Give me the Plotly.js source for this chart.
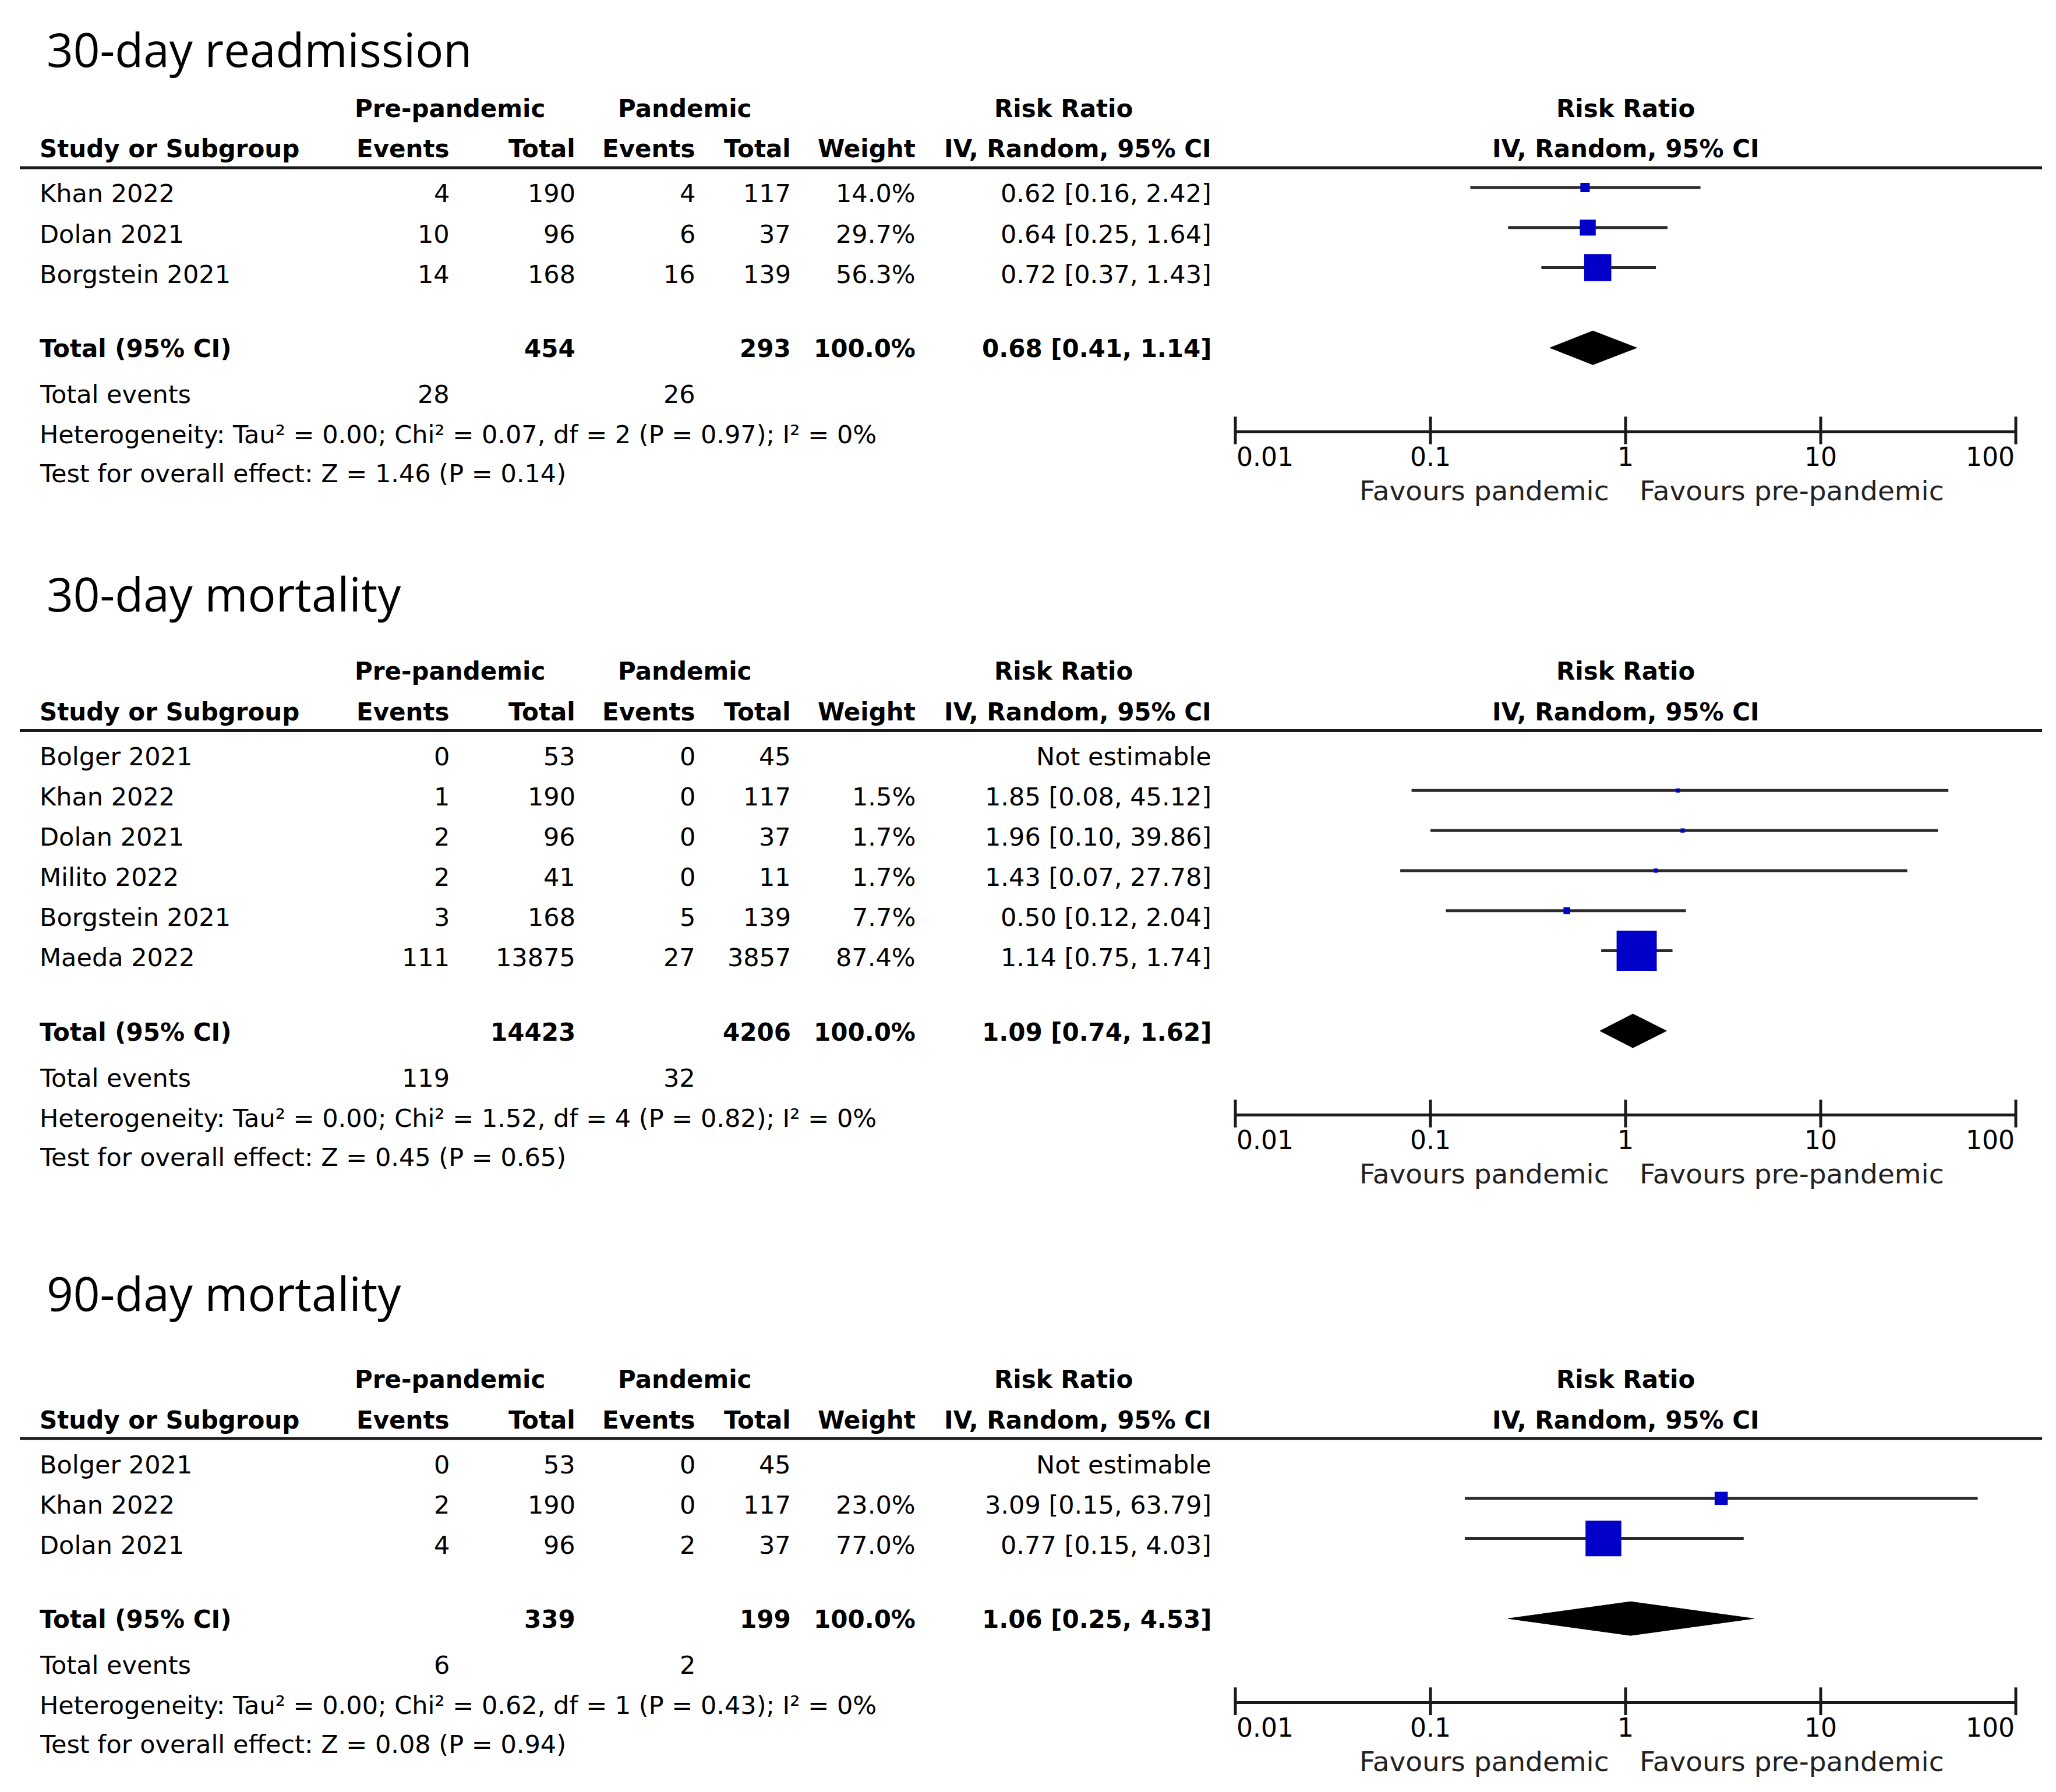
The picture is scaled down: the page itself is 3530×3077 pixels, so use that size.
<!DOCTYPE html>
<html>
<head>
<meta charset="utf-8">
<script src="https://cdn.plot.ly/plotly-3.0.1.min.js"></script>
<style>html,body{margin:0;padding:0;background:#fff;}#chart{width:3530px;height:3077px;}</style>
</head>
<body>
<div id="chart"></div>
<script>
// ---------------- DATA ----------------
const sectionTitles = ['30-day readmission', '30-day mortality', '90-day mortality'];

// 30-day readmission
const studies1 = ['Khan 2022', 'Dolan 2021', 'Borgstein 2021'];
const preEvents1 = [4, 10, 14];
const preTotal1 = [190, 96, 168];
const panEvents1 = [4, 6, 16];
const panTotal1 = [117, 37, 139];
const weight1 = [14.0, 29.7, 56.3];
const rr1 = [0.62, 0.64, 0.72];
const lo1 = [0.16, 0.25, 0.37];
const hi1 = [2.42, 1.64, 1.43];
const pooled1 = {preTotal: 454, panTotal: 293, weight: 100.0, rr: 0.68, lo: 0.41, hi: 1.14, preEvents: 28, panEvents: 26};
const het1 = {tau2: '0.00', chi2: '0.07', df: 2, p: '0.97', i2: '0%', z: '1.46', pz: '0.14'};

// 30-day mortality
const studies2 = ['Bolger 2021', 'Khan 2022', 'Dolan 2021', 'Milito 2022', 'Borgstein 2021', 'Maeda 2022'];
const preEvents2 = [0, 1, 2, 2, 3, 111];
const preTotal2 = [53, 190, 96, 41, 168, 13875];
const panEvents2 = [0, 0, 0, 0, 5, 27];
const panTotal2 = [45, 117, 37, 11, 139, 3857];
const weight2 = [null, 1.5, 1.7, 1.7, 7.7, 87.4];
const rr2 = [null, 1.85, 1.96, 1.43, 0.50, 1.14];
const lo2 = [null, 0.08, 0.10, 0.07, 0.12, 0.75];
const hi2 = [null, 45.12, 39.86, 27.78, 2.04, 1.74];
const pooled2 = {preTotal: 14423, panTotal: 4206, weight: 100.0, rr: 1.09, lo: 0.74, hi: 1.62, preEvents: 119, panEvents: 32};
const het2 = {tau2: '0.00', chi2: '1.52', df: 4, p: '0.82', i2: '0%', z: '0.45', pz: '0.65'};

// 90-day mortality
const studies3 = ['Bolger 2021', 'Khan 2022', 'Dolan 2021'];
const preEvents3 = [0, 2, 4];
const preTotal3 = [53, 190, 96];
const panEvents3 = [0, 0, 2];
const panTotal3 = [45, 117, 37];
const weight3 = [null, 23.0, 77.0];
const rr3 = [null, 3.09, 0.77];
const lo3 = [null, 0.15, 0.15];
const hi3 = [null, 63.79, 4.03];
const pooled3 = {preTotal: 339, panTotal: 199, weight: 100.0, rr: 1.06, lo: 0.25, hi: 4.53, preEvents: 6, panEvents: 2};
const het3 = {tau2: '0.00', chi2: '0.62', df: 1, p: '0.43', i2: '0%', z: '0.08', pz: '0.94'};

const tickVals = [0.01, 0.1, 1, 10, 100];
const tickText = ['0.01', '0.1', '1', '10', '100'];
const favourLeft = 'Favours pandemic';
const favourRight = 'Favours pre-pandemic';
const headerTop = ['Pre-pandemic', 'Pandemic', 'Risk Ratio'];
const headerCols = ['Study or Subgroup', 'Events', 'Total', 'Events', 'Total', 'Weight', 'IV, Random, 95% CI'];
const forestHeader = ['Risk Ratio', 'IV, Random, 95% CI'];

// ---------------- LAYOUT CONSTANTS ----------------
const W = 3530, H = 3077;
const FONT = 'DejaVu Sans';
const FS = 43;
const sections = [
  {studies: studies1, preE: preEvents1, preT: preTotal1, panE: panEvents1, panT: panTotal1, w: weight1, rr: rr1, lo: lo1, hi: hi1, pooled: pooled1, het: het1, titleY: 84, L: 288},
  {studies: studies2, preE: preEvents2, preT: preTotal2, panE: panEvents2, panT: panTotal2, w: weight2, rr: rr2, lo: lo2, hi: hi2, pooled: pooled2, het: het2, titleY: 1018, L: 1254.5},
  {studies: studies3, preE: preEvents3, preT: preTotal3, panE: panEvents3, panT: panTotal3, w: weight3, rr: rr3, lo: lo3, hi: hi3, pooled: pooled3, het: het3, titleY: 2219, L: 2470}
];
const colRight = {preE: 774, preT: 990, panE: 1196, panT: 1360, w: 1574, ci: 2082};
const nameLeft = 66;
const forestDomain = [2121 / W, 3461 / W];
const ROW = 68.8;       // px per forest row
const MARK0 = 34;       // first forest row below header line
const TEXT0 = 44.5;     // first table text row below header line
const TEXTSTEP = 69.1;
const TEXTYSHIFT = 0;

function yp(p) { return 1 - p / H; }
function xp(p) { return p / W; }

const annotations = [];
const shapes = [];
const traces = [];
const layout = {
  width: W, height: H,
  margin: {l: 0, r: 0, t: 0, b: 0, pad: 0},
  paper_bgcolor: '#ffffff', plot_bgcolor: 'rgba(0,0,0,0)',
  showlegend: false,
  font: {family: FONT, size: FS, color: '#000'},
  annotations: annotations, shapes: shapes
};

function ann(text, x, y, xanchor, opts) {
  const a = Object.assign({
    text: text, x: xp(x), y: yp(y), xref: 'paper', yref: 'paper',
    xanchor: xanchor, yanchor: 'middle', showarrow: false,
    font: {family: FONT, size: FS, color: '#000'}, yshift: TEXTYSHIFT
  }, opts || {});
  annotations.push(a);
}
const b = s => '<b>' + s + '</b>';
const fmt2 = v => v.toFixed(2);
const fmtCI = (r, l, h) => fmt2(r) + ' [' + fmt2(l) + ', ' + fmt2(h) + ']';
const HB = {font: {family: FONT, size: 42, color: '#000'}};

sections.forEach((s, k) => {
  const n = s.studies.length;
  const L = s.L;
  const xk = k === 0 ? 'x' : 'x' + (k + 1);
  const yk = k === 0 ? 'y' : 'y' + (k + 1);
  const xName = k === 0 ? 'xaxis' : 'xaxis' + (k + 1);
  const yName = k === 0 ? 'yaxis' : 'yaxis' + (k + 1);

  // title
  annotations.push({text: sectionTitles[k], x: xp(78), y: yp(s.titleY), xref: 'paper', yref: 'paper',
    xanchor: 'left', yanchor: 'middle', showarrow: false,
    font: {family: 'Open Sans', size: 80, color: '#000'}});

  // table headers
  const h1 = L - 102, h2 = L - 32;
  ann(b(headerTop[0]), 772, h1, 'center', HB);
  ann(b(headerTop[1]), 1176, h1, 'center', HB);
  ann(b(headerTop[2]), 1826, h1, 'center', HB);
  ann(b(headerCols[0]), nameLeft, h2, 'left', HB);
  ann(b(headerCols[1]), colRight.preE, h2, 'right', HB);
  ann(b(headerCols[2]), colRight.preT, h2, 'right', HB);
  ann(b(headerCols[3]), colRight.panE, h2, 'right', HB);
  ann(b(headerCols[4]), colRight.panT, h2, 'right', HB);
  ann(b(headerCols[5]), colRight.w, h2, 'right', HB);
  ann(b(headerCols[6]), colRight.ci, h2, 'right', HB);

  // header line
  shapes.push({type: 'line', xref: 'paper', yref: 'paper', x0: xp(34), x1: xp(3506), y0: yp(L), y1: yp(L),
    line: {color: '#1a1a1a', width: 5}});

  // study rows
  for (let i = 0; i < n; i++) {
    const ty = L + TEXT0 + TEXTSTEP * i;
    ann(s.studies[i], nameLeft, ty, 'left');
    ann(String(s.preE[i]), colRight.preE, ty, 'right');
    ann(String(s.preT[i]), colRight.preT, ty, 'right');
    ann(String(s.panE[i]), colRight.panE, ty, 'right');
    ann(String(s.panT[i]), colRight.panT, ty, 'right');
    if (s.w[i] !== null) ann(s.w[i].toFixed(1) + '%', colRight.w, ty, 'right');
    ann(s.rr[i] === null ? 'Not estimable' : fmtCI(s.rr[i], s.lo[i], s.hi[i]), colRight.ci, ty, 'right');
  }
  const lastY = L + TEXT0 + TEXTSTEP * (n - 1);
  const totY = lastY + 128;
  ann(b('Total (95% CI)'), nameLeft, totY, 'left', HB);
  ann(b(String(s.pooled.preTotal)), colRight.preT, totY, 'right', HB);
  ann(b(String(s.pooled.panTotal)), colRight.panT, totY, 'right', HB);
  ann(b(s.pooled.weight.toFixed(1) + '%'), colRight.w, totY, 'right', HB);
  ann(b(fmtCI(s.pooled.rr, s.pooled.lo, s.pooled.hi)), colRight.ci, totY, 'right', HB);
  ann('Total events', nameLeft, totY + 78, 'left');
  ann(String(s.pooled.preEvents), colRight.preE, totY + 78, 'right');
  ann(String(s.pooled.panEvents), colRight.panE, totY + 78, 'right');
  const h = s.het;
  ann('Heterogeneity: Tau² = ' + h.tau2 + '; Chi² = ' + h.chi2 + ', df = ' + h.df + ' (P = ' + h.p + '); I² = ' + h.i2,
    nameLeft, totY + 147, 'left');
  ann('Test for overall effect: Z = ' + h.z + ' (P = ' + h.pz + ')', nameLeft, totY + 214, 'left');

  // forest axes
  const iTop = -MARK0 / ROW;
  const iBot = n + 1 + 142 / ROW;
  const axisPx = L + MARK0 + ROW * iBot;
  layout[yName] = {domain: [yp(axisPx), yp(L)], range: [iBot, iTop], showgrid: false, zeroline: false,
    showticklabels: false, ticks: '', showline: false, anchor: xk, fixedrange: true};
  layout[xName] = {domain: forestDomain, type: 'log', range: [-2, 2], anchor: yk, showline: true,
    linecolor: '#1a1a1a', linewidth: 5, ticks: '', showticklabels: false, showgrid: false, zeroline: false, fixedrange: true};

  // line of no effect
  shapes.push({type: 'line', xref: xk, yref: yk + ' domain', x0: 0, x1: 0, y0: 0, y1: 1, layer: 'below',
    line: {color: '#111', width: 4}});

  // CI lines
  const cx = [], cy = [], mx = [], my = [], ms = [];
  for (let i = 0; i < n; i++) {
    if (s.rr[i] === null) continue;
    cx.push(s.lo[i], s.hi[i], null); cy.push(i, i, null);
    mx.push(s.rr[i]); my.push(i); ms.push(6 + 0.72 * s.w[i]);
  }
  traces.push({type: 'scatter', mode: 'lines', x: cx, y: cy, xaxis: xk, yaxis: yk, opacity: 1,
    line: {color: '#2b2b2b', width: 5}, hoverinfo: 'skip', cliponaxis: false});
  traces.push({type: 'scatter', mode: 'markers', x: mx, y: my, xaxis: xk, yaxis: yk, opacity: 1,
    marker: {symbol: 'square', size: ms, color: '#0000c8', opacity: 1, line: {width: 0, color: '#0000c8'}},
    hoverinfo: 'skip', cliponaxis: false});
  // pooled diamond
  const d = n + 1, dh = 29 / ROW;
  const p = s.pooled;
  traces.push({type: 'scatter', mode: 'lines', x: [p.lo, p.rr, p.hi, p.rr, p.lo], y: [d, d - dh, d, d + dh, d],
    xaxis: xk, yaxis: yk, fill: 'toself', fillcolor: '#000', line: {color: '#000', width: 1}, hoverinfo: 'skip'});
  // tick marks crossing the axis line
  traces.push({type: 'scatter', mode: 'markers', x: tickVals, y: tickVals.map(() => iBot), xaxis: xk, yaxis: yk,
    marker: {symbol: 'line-ns', size: 34, opacity: 1, line: {width: 5, color: '#1a1a1a'}}, hoverinfo: 'skip', cliponaxis: false});

  // forest headers
  [forestHeader[0], forestHeader[1]].forEach((t, j) => {
    annotations.push({text: b(t), x: 0, y: yp(j === 0 ? h1 : h2), xref: xk, yref: 'paper', xanchor: 'center',
      yanchor: 'middle', showarrow: false, font: {family: FONT, size: 42, color: '#000'}, yshift: TEXTYSHIFT});
  });
  // tick labels
  tickVals.forEach((v, j) => {
    annotations.push({text: tickText[j], x: Math.log10(v), y: yp(axisPx + 45), xref: xk, yref: 'paper',
      xanchor: j === 0 ? 'left' : (j === tickVals.length - 1 ? 'right' : 'center'), yanchor: 'middle',
      showarrow: false, font: {family: FONT, size: 44, color: '#000'}});
  });
  // favours labels
  annotations.push({text: favourLeft, x: 0, y: yp(axisPx + 103), xref: xk, yref: 'paper', xanchor: 'right',
    xshift: -26, yanchor: 'middle', showarrow: false, font: {family: FONT, size: 47, color: '#222'}});
  annotations.push({text: favourRight, x: 0, y: yp(axisPx + 103), xref: xk, yref: 'paper', xanchor: 'left',
    xshift: 22, yanchor: 'middle', showarrow: false, font: {family: FONT, size: 47, color: '#222'}});
});

Plotly.newPlot('chart', traces, layout, {displayModeBar: false, staticPlot: true});
</script>
</body>
</html>
